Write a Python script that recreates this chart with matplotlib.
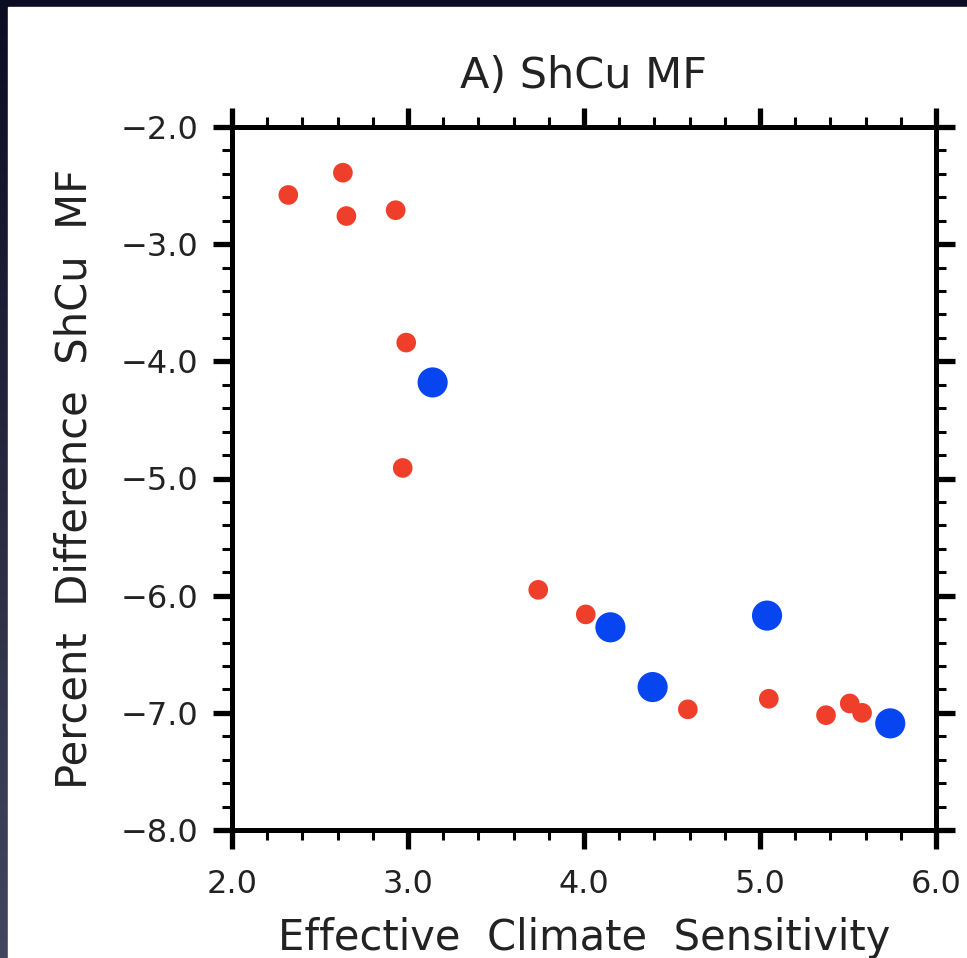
import numpy as np
import matplotlib.pyplot as plt
from matplotlib.patches import Rectangle
from matplotlib.colors import LinearSegmentedColormap
from matplotlib.ticker import MultipleLocator, FuncFormatter

# data
red_x = [2.32, 2.63, 2.65, 2.93, 2.99, 2.97, 3.74, 4.01, 4.59, 5.05, 5.375, 5.51, 5.58]
red_y = [-2.58, -2.39, -2.76, -2.71, -3.84, -4.91, -5.95, -6.16, -6.97, -6.88, -7.02, -6.92, -7.00]
blue_x = [3.14, 4.15, 4.39, 5.04, 5.74]
blue_y = [-4.18, -6.27, -6.78, -6.17, -7.09]

title = "A) ShCu MF"
xlab = "Effective  Climate  Sensitivity"
ylab = "Percent  Difference  ShCu  MF"

plt.rcParams['font.family'] = ['DejaVu Sans']

fig = plt.figure(figsize=(9.67, 9.58), dpi=100)

# dark slide frame, a bit lighter towards the bottom on the left edge
bg = fig.add_axes([0, 0, 1, 1], zorder=-10)
grad = np.linspace(0, 1, 256).reshape(-1, 1)
bg.imshow(grad, aspect='auto', extent=[0, 1, 0, 1], origin='upper',
          cmap=LinearSegmentedColormap.from_list('frame', ['#0c0c22', '#44465f']))
bg.add_patch(Rectangle((8 / 967, 0), 1, 1 - 7 / 958, color='white'))
bg.set_xlim(0, 1)
bg.set_ylim(0, 1)
bg.axis('off')

ax = fig.add_axes([232 / 967, 128 / 958, 704 / 967, 703 / 958])
ax.scatter(red_x, red_y, s=200, color='#ef3e29', edgecolors='none', zorder=3)
ax.scatter(blue_x, blue_y, s=470, color='#0645f0', edgecolors='none', zorder=4)

ax.set_xlim(2.0, 6.0)
ax.set_ylim(-8.0, -2.0)
ax.xaxis.set_major_locator(MultipleLocator(1.0))
ax.xaxis.set_minor_locator(MultipleLocator(0.2))
ax.yaxis.set_major_locator(MultipleLocator(1.0))
ax.yaxis.set_minor_locator(MultipleLocator(0.2))
fmt = FuncFormatter(lambda v, p: ('%.1f' % v).replace('-', '\u2212'))
ax.xaxis.set_major_formatter(fmt)
ax.yaxis.set_major_formatter(fmt)

for s in ax.spines.values():
    s.set_linewidth(3.6)
ax.tick_params(which='both', direction='out', top=True, right=True,
               labelcolor='#222222', labelsize=23)
ax.tick_params(which='major', length=14, width=3.8, pad=10)
ax.tick_params(axis='x', which='major', pad=14)
ax.tick_params(which='minor', length=7, width=2.2)

ax.set_title(title, fontsize=31, pad=28, color='#222222')
ax.set_xlabel(xlab, fontsize=30, labelpad=12, color='#222222')
ax.set_ylabel(ylab, fontsize=30, labelpad=18, color='#222222')

fig.savefig('out.png', dpi=100)
